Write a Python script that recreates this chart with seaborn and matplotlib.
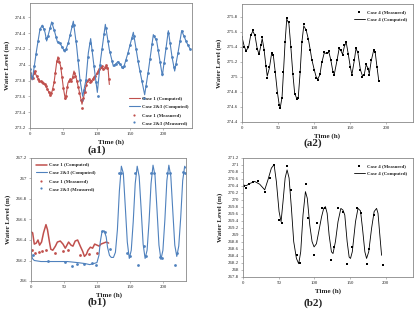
import matplotlib
matplotlib.use('Agg')
import matplotlib.pyplot as plt
from matplotlib.ticker import FuncFormatter, MultipleLocator
import seaborn as sns

sns.set_style('white')
plt.rcParams['font.family'] = ['Liberation Serif', 'DejaVu Serif']

RED = '#C0504D'
BLUE = '#4F81BD'

# ---- (a1) Case 1 / Case 2&3 ----
a1_c1_t = [0, 3, 7, 10, 15, 20, 22, 25, 30, 33, 36, 40, 42, 46, 50, 53, 57, 60, 63, 66,
           70, 74, 78, 82, 85, 88, 92, 95, 100, 105, 108, 112, 115, 117, 119]
a1_c1_v = [273.88, 273.81, 273.92, 273.85, 273.79, 273.77, 273.75, 273.71, 273.62, 273.66,
           273.77, 274.03, 274.10, 273.98, 273.71, 273.56, 273.77, 273.81, 273.81, 273.92,
           273.81, 273.66, 273.50, 273.65, 273.77, 273.81, 273.79, 273.83, 273.88, 273.94,
           273.96, 273.94, 273.98, 273.96, 273.75]

a1_c23_t = [0, 3.5, 10, 15, 18.5, 22.5, 25, 32.5, 37.5, 41, 45, 52.5, 57.5, 65, 70, 75, 79,
            84, 87.5, 91, 96, 101, 106, 113, 119, 125, 132, 140, 147, 155, 163, 172, 178,
            185, 190, 198.5, 207.5, 213, 217, 222, 227.5, 235, 240]
a1_c23_v = [273.96, 273.81, 274.19, 274.45, 274.50, 274.41, 274.30, 274.54, 274.40, 274.29,
            274.27, 274.16, 274.28, 274.55, 274.23, 273.81, 273.60, 273.81, 274.15, 274.33,
            273.98, 273.65, 274.07, 274.51, 274.19, 273.98, 274.04, 273.95, 274.15, 274.41,
            274.00, 273.62, 273.95, 274.38, 274.30, 273.86, 274.43, 274.10, 273.92, 274.15,
            274.43, 274.28, 274.20]

a1_c1_meas_t = [0, 2, 4, 6, 8, 10, 12, 14, 16, 18, 20, 22, 24, 26, 28, 30, 32, 34, 36, 38,
                40, 42, 44, 46, 48, 50, 52, 54, 56, 58, 60, 62, 64, 66, 68, 70, 72, 74, 76, 78,
                80, 82, 84, 86, 88, 90, 92, 94, 96, 98, 100, 102, 104, 106, 108, 110, 112,
                114, 116, 118]
a1_c1_meas_v = [273.90, 273.84, 273.83, 273.90, 273.92, 273.86, 273.82, 273.80, 273.79,
                273.78, 273.77, 273.76, 273.73, 273.69, 273.65, 273.62, 273.64, 273.69,
                273.78, 273.90, 274.05, 274.08, 274.04, 273.96, 273.84, 273.70, 273.58,
                273.60, 273.72, 273.80, 273.82, 273.80, 273.85, 273.90, 273.86, 273.80,
                273.72, 273.64, 273.55, 273.45, 273.58, 273.66, 273.74, 273.79, 273.82,
                273.78, 273.80, 273.82, 273.85, 273.86, 273.90, 273.92, 273.95, 273.97,
                273.98, 273.94, 273.97, 274.00, 273.96, 273.82]

a1_c23_meas_t = [0, 3, 6, 9, 12, 15, 18, 21, 24, 27, 30, 33, 36, 39, 42, 45, 48, 51, 54, 57,
                 60, 63, 66, 69, 72, 75, 78, 81, 84, 87, 90, 93, 96, 99, 102, 105, 108, 111,
                 114, 117, 120, 123, 126, 129, 132, 135, 138, 141, 144, 147, 150, 153, 156,
                 159, 162, 165, 168, 171, 174, 177, 180, 183, 186, 189, 192, 195, 198, 201,
                 204, 207, 210, 213, 216, 219, 222, 225, 228, 231, 234, 237, 240]
a1_c23_meas_v = [273.95, 273.84, 273.98, 274.13, 274.30, 274.45, 274.49, 274.45, 274.34,
                 274.36, 274.46, 274.53, 274.44, 274.35, 274.29, 274.27, 274.23, 274.18,
                 274.20, 274.27, 274.38, 274.49, 274.50, 274.30, 274.06, 273.81, 273.56,
                 273.68, 273.81, 274.10, 274.28, 274.19, 273.98, 273.78, 273.60, 273.99,
                 274.20, 274.39, 274.46, 274.30, 274.16, 274.05, 273.99, 274.01, 274.04,
                 274.01, 273.97, 273.98, 274.06, 274.15, 274.25, 274.34, 274.36, 274.20,
                 274.05, 273.92, 273.79, 273.58, 273.73, 273.90, 274.07, 274.26, 274.36,
                 274.32, 274.19, 274.04, 273.88, 274.02, 274.21, 274.40, 274.28, 274.10,
                 273.97, 274.01, 274.15, 274.30, 274.42, 274.36, 274.30, 274.25, 274.20]

# ---- (a2) Case 4 ----
a2_t = [0, 3, 5.5, 9, 12, 15, 18, 21, 23.6, 26, 28, 30.5, 33, 35, 38, 41, 43.5, 46, 49, 51.4,
        53, 55.5, 57.4, 59.7, 62, 65, 67.6, 70.4, 73, 76, 78, 80.5, 83, 85.6, 89, 92, 94.4,
        96.8, 100, 102.8, 105, 108, 110.6, 114, 117.6, 120.4, 123, 126, 128, 131.5, 134.7,
        137, 139.4, 142, 144.4, 147, 150, 152.3, 155.5, 158, 160.6, 164, 167, 169.4, 172,
        174.5, 176.4, 179, 182.4, 184.7, 187, 189.4]
a2_comp = [275.53, 275.41, 275.35, 275.39, 275.55, 275.61, 275.55, 275.38, 275.30, 275.41,
           275.51, 275.37, 275.16, 275.01, 275.12, 275.31, 275.28, 275.07, 274.80, 274.64,
           274.59, 274.73, 275.05, 275.46, 275.77, 275.71, 275.41, 275.05, 274.78, 274.71,
           274.73, 275.05, 275.46, 275.68, 275.62, 275.50, 275.37, 275.23, 275.10, 275.00,
           274.97, 275.03, 275.19, 275.32, 275.31, 275.33, 275.23, 275.07, 275.04, 275.21,
           275.38, 275.35, 275.30, 275.41, 275.46, 275.32, 275.14, 275.03, 275.21, 275.38,
           275.32, 275.10, 275.01, 275.03, 275.16, 275.12, 275.04, 275.21, 275.35, 275.32,
           275.14, 274.96]
a2_meas = [275.53, 275.40, 275.34, 275.40, 275.56, 275.63, 275.56, 275.37, 275.31, 275.42,
           275.53, 275.36, 275.15, 274.99, 275.13, 275.32, 275.29, 275.06, 274.79, 274.63,
           274.58, 274.72, 275.06, 275.47, 275.79, 275.73, 275.40, 275.04, 274.77, 274.70,
           274.72, 275.06, 275.47, 275.70, 275.63, 275.51, 275.36, 275.22, 275.09, 274.99,
           274.96, 275.04, 275.20, 275.33, 275.32, 275.34, 275.22, 275.06, 275.03, 275.22,
           275.39, 275.36, 275.29, 275.42, 275.47, 275.31, 275.13, 275.02, 275.22, 275.39,
           275.33, 275.09, 275.00, 275.02, 275.17, 275.11, 275.03, 275.22, 275.36, 275.33,
           275.13, 274.94]

# ---- (b1) Case 1 / Case 2&3 ----
b1_c1_t = [0, 2.5, 5, 8, 10.6, 13, 16, 19, 22.7, 25, 28, 30, 33, 37, 40, 44.4, 48.5, 52, 57,
           60.6, 63.6, 67, 70.7, 74.7, 78.3, 81, 84, 86.4, 90, 93.4, 96.5, 100, 103.5, 106,
           110, 114, 117.7]
b1_c1_v = [266.48, 266.47, 266.36, 266.37, 266.40, 266.35, 266.38, 266.47, 266.55, 266.50,
           266.38, 266.31, 266.30, 266.34, 266.38, 266.39, 266.36, 266.32, 266.38, 266.35,
           266.34, 266.39, 266.40, 266.34, 266.29, 266.24, 266.26, 266.30, 266.33, 266.32,
           266.36, 266.35, 266.34, 266.36, 266.37, 266.38, 266.37]

b1_c23_t = [0, 2, 5, 15, 30, 45, 55, 70, 82, 89, 95, 100, 103, 105, 107.6, 111, 114, 116, 119,
            121.7, 125, 128, 131, 134, 137, 140, 143, 146, 149, 152, 155, 158, 161, 164, 167,
            170, 173, 176, 179, 182, 185, 188, 191, 194, 197, 200, 203, 206, 209, 212, 215,
            218, 221, 224, 227, 230, 233, 235]
b1_c23_v = [266.30, 266.22, 266.20, 266.19, 266.19, 266.19, 266.19, 266.18, 266.17, 266.16,
            266.17, 266.18, 266.25, 266.38, 266.48, 266.49, 266.43, 266.33, 266.25, 266.23,
            266.23, 266.28, 266.50, 266.88, 267.12, 267.05, 266.72, 266.38, 266.22, 266.30,
            266.58, 266.95, 267.12, 267.02, 266.70, 266.36, 266.22, 266.30, 266.58, 266.95,
            267.13, 267.03, 266.70, 266.35, 266.21, 266.30, 266.60, 266.98, 267.13, 267.02,
            266.68, 266.35, 266.24, 266.34, 266.62, 266.98, 267.12, 267.10]

b1_c1_meas_t = [1, 6, 12, 17, 23, 36, 48, 56, 75, 88, 100]
b1_c1_meas_v = [266.30, 266.27, 266.28, 266.29, 266.30, 266.27, 266.29, 266.30, 266.25,
                266.26, 266.27]

b1_c23_meas_t = [3, 26, 52, 62, 70, 80, 92, 98, 107, 112, 120, 133, 137, 145, 150, 158, 162,
                 171, 174, 182, 186, 196, 199, 206, 210, 219, 222, 230, 234]
b1_c23_meas_v = [266.25, 266.20, 266.19, 266.15, 266.17, 266.17, 266.18, 266.16, 266.49,
                 266.48, 266.31, 267.05, 267.05, 266.27, 266.24, 267.05, 266.16, 266.34,
                 266.24, 267.05, 267.05, 266.23, 266.22, 267.05, 267.05, 266.16, 266.27,
                 267.06, 267.05]

# ---- (b2) Case 4 ----
b2_t = [0, 4.7, 9.3, 16.4, 23.4, 30.4, 35, 39.7, 43.5, 46.7, 50.5, 53.3, 56, 59, 61.7, 64.5,
        67.8, 71, 74.8, 78, 80.8, 84, 87.4, 90, 93.5, 96.7, 99.5, 102.8, 106, 110, 113, 115.4,
        117.8, 120.6, 123.8, 126, 129.4, 133, 137, 140, 142.5, 145.8, 148.6, 150.5, 153,
        157.5, 161, 164.5, 167.3, 170.6, 173, 176, 180, 183.6, 187, 189, 191.6, 194]
b2_comp = [270.43, 270.41, 270.47, 270.53, 270.45, 270.29, 270.58, 270.91, 271.01, 270.53,
           269.67, 269.38, 269.95, 270.63, 270.86, 270.63, 269.76, 268.81, 268.33, 268.18,
           268.52, 269.57, 270.24, 270.05, 269.28, 268.81, 268.66, 268.75, 269.09, 269.52,
           269.76, 269.81, 269.62, 268.99, 268.52, 268.47, 268.81, 269.38, 269.76, 269.71,
           269.57, 268.81, 268.37, 268.33, 268.52, 269.38, 269.76, 269.69, 269.19, 268.52,
           268.33, 268.52, 269.19, 269.67, 269.76, 269.62, 268.99, 268.42]

b2_meas_t = [1, 4.7, 8.4, 14, 21, 30.4, 37.4, 43.5, 50.5, 55, 62, 67.8, 75.7, 79.4, 87.9,
             91, 99, 104, 111, 114.5, 123.8, 127, 133, 140, 145.8, 152.8, 159, 164.5, 173,
             176.6, 183, 196]
b2_meas_v = [270.41, 270.34, 270.45, 270.51, 270.55, 270.24, 270.63, 271.01, 269.43, 269.33,
             270.96, 270.29, 268.42, 268.20, 270.45, 269.48, 268.44, 269.33, 269.76, 269.76,
             268.28, 268.66, 269.76, 269.67, 268.18, 268.66, 269.76, 269.62, 268.18, 268.61,
             269.57, 268.15]


def fmt(v, pos):
    return f'{round(v, 1):g}'


def style(ax, xmax, ylim):
    ax.set_xlim(0, xmax)
    ax.set_ylim(*ylim)
    ax.set_xticks([0, 50, 100, 150, 200])
    ax.yaxis.set_major_locator(MultipleLocator(0.2))
    ax.yaxis.set_major_formatter(FuncFormatter(fmt))
    ax.tick_params(labelsize=3.5, length=1.5, width=0.4, color='#888888', pad=1.5,
                   left=True, bottom=True)
    for s in ax.spines.values():
        s.set_color('#888888')
        s.set_linewidth(0.6)
    ax.set_xlabel('Time (h)', fontsize=5, fontweight='bold', labelpad=2)
    ax.set_ylabel('Water Level (m)', fontsize=5, fontweight='bold', labelpad=3)


fig = plt.figure(figsize=(4.19, 3.14), dpi=100)
W, H = 419, 314


def make_ax(l, t, r, b):
    return fig.add_axes([l / W, 1 - b / H, (r - l) / W, (b - t) / H])


leg_kw = dict(frameon=False, handlelength=2.2, handletextpad=0.5, markerscale=0.8,
              labelspacing=0.7, prop={'weight': 'bold', 'size': 3.5})

# (a1)
ax1 = make_ax(30, 3, 192, 128)
sns.lineplot(x=a1_c1_t, y=a1_c1_v, color=RED, lw=0.8, sort=False, ax=ax1, label='Case 1 (Computed)')
sns.lineplot(x=a1_c23_t, y=a1_c23_v, color=BLUE, lw=0.8, sort=False, ax=ax1, label='Case 2&3 (Computed)')
sns.scatterplot(x=a1_c1_meas_t, y=a1_c1_meas_v, color=RED, s=4, linewidth=0, ax=ax1, label='Case 1 (Measured)')
sns.scatterplot(x=a1_c23_meas_t, y=a1_c23_meas_v, color=BLUE, s=4, linewidth=0, ax=ax1, label='Case 2&3 (Measured)')
style(ax1, 243, (273.2, 274.78))
ax1.legend(loc='lower right', borderaxespad=0.3, **leg_kw)

# (a2)
ax2 = make_ax(242, 4, 413, 122)
sns.scatterplot(x=a2_t, y=a2_meas, color='black', marker='s', s=3, linewidth=0, ax=ax2, label='Case 4 (Measured)')
sns.lineplot(x=a2_t, y=a2_comp, color='black', lw=0.6, sort=False, ax=ax2, label='Case 4 (Computed)')
style(ax2, 237, (274.4, 275.97))
ax2.legend(loc='upper right', borderaxespad=0.8, **leg_kw)

# (b1)
ax3 = make_ax(31, 158, 186, 281)
sns.lineplot(x=b1_c1_t, y=b1_c1_v, color=RED, lw=1.1, sort=False, ax=ax3, label='Case 1 (Computed)')
sns.lineplot(x=b1_c23_t, y=b1_c23_v, color=BLUE, lw=0.8, sort=False, ax=ax3, label='Case 2&3 (Computed)')
sns.scatterplot(x=b1_c1_meas_t, y=b1_c1_meas_v, color=RED, s=4, linewidth=0, ax=ax3, label='Case 1 (Measured)')
sns.scatterplot(x=b1_c23_meas_t, y=b1_c23_meas_v, color=BLUE, s=4, linewidth=0, ax=ax3, label='Case 2&3 (Measured)')
style(ax3, 235, (266.0, 267.2))
ax3.legend(loc='upper left', borderaxespad=0.6, **leg_kw)

# (b2)
ax4 = make_ax(243, 158, 413, 277)
sns.scatterplot(x=b2_meas_t, y=b2_meas_v, color='black', marker='s', s=3, linewidth=0, ax=ax4, label='Case 4 (Measured)')
sns.lineplot(x=b2_t, y=b2_comp, color='black', lw=0.6, sort=False, ax=ax4, label='Case 4 (Computed)')
style(ax4, 238, (267.8, 271.2))
ax4.legend(loc='upper right', borderaxespad=0.8, **leg_kw)

for x, y, s in [(97, 150, '(a1)'), (313, 143, '(a2)'), (97, 302, '(b1)'), (313, 303, '(b2)')]:
    fig.text(x / W, 1 - y / H, s, ha='center', va='center', fontsize=8, fontweight='bold')

fig.savefig('out.png', dpi=100)
